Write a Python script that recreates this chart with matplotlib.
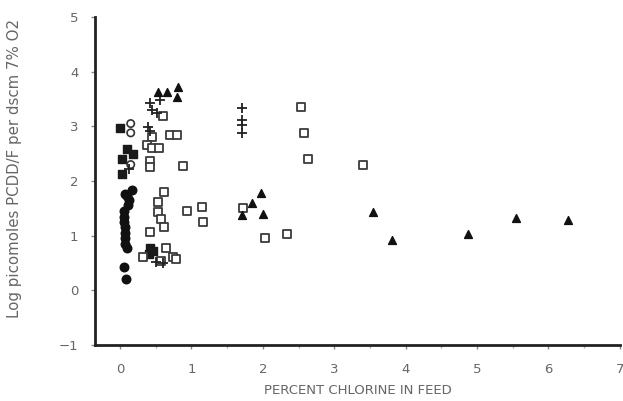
import numpy as np
import matplotlib
matplotlib.use('Agg')
import matplotlib.pyplot as plt
from matplotlib.ticker import MultipleLocator

# percent chlorine vs log picomoles
fsq_x=[0.00,0.10,0.18,0.03,0.03,0.42,0.46,0.40]
fsq_y=[2.97,2.58,2.50,2.40,2.12,0.78,0.72,0.66]

fci_x=[0.17,0.10,0.07,0.12,0.11,0.05,0.05,0.05,0.07,0.07,0.07,0.07,0.10,0.06,0.08]
fci_y=[1.83,1.72,1.76,1.65,1.56,1.45,1.35,1.25,1.15,1.05,0.95,0.85,0.78,0.43,0.21]

oci_x=[0.15,0.15,0.15]
oci_y=[3.05,2.88,2.30]

osq_x=[0.60,0.45,0.70,0.80,0.38,0.45,0.55,0.42,0.42,0.88,0.62,0.53,0.53,0.57,0.62,0.42,
       0.94,1.15,1.16,0.64,0.74,0.58,0.32,0.78,2.54,2.58,2.63,3.40,1.72,2.03,2.34]
osq_y=[3.18,2.81,2.85,2.85,2.65,2.61,2.61,2.36,2.25,2.27,1.79,1.61,1.43,1.30,1.15,1.06,
       1.45,1.52,1.25,0.77,0.61,0.54,0.61,0.57,3.36,2.87,2.40,2.30,1.50,0.96,1.03]

plus_x=[0.56,0.42,0.45,0.52,0.39,0.42,0.12,0.51,0.60,1.71,1.71,1.71,1.71]
plus_y=[3.49,3.43,3.30,3.25,2.98,2.91,2.22,0.52,0.50,3.33,3.12,3.03,2.88]

tri_x=[0.53,0.66,0.81,0.80,1.97,1.85,2.00,1.71,3.54,3.81,4.87,5.55,6.27]
tri_y=[3.62,3.63,3.72,3.54,1.78,1.59,1.39,1.38,1.43,0.92,1.03,1.32,1.28]

xticks=[0,1,2,3,4,5,6,7]
yticks=[-1,0,1,2,3,4,5]

fig=plt.figure(figsize=(6.23,4.01),dpi=100)
ax=fig.add_axes([0.1525,0.1397,0.8425,0.818])

ax.scatter(fsq_x,fsq_y,marker='s',s=34,c='#1a1a1a',edgecolors='#1a1a1a')
ax.scatter(fci_x,fci_y,marker='o',s=38,c='#111111',edgecolors='#111111')
ax.scatter(oci_x,oci_y,marker='o',s=28,facecolors='none',edgecolors='#333333',linewidths=1.2)
ax.scatter(osq_x,osq_y,marker='s',s=30,facecolors='white',edgecolors='#3a3a3a',linewidths=1.3)
ax.scatter(plus_x,plus_y,marker='+',s=42,c='#222222',linewidths=1.3)
ax.scatter(tri_x,tri_y,marker='^',s=32,c='#111111',edgecolors='#111111')

ax.set_xlim(-0.35,7.0)
ax.set_ylim(-1,5)
ax.set_xticks(xticks)
ax.set_yticks(yticks)
ax.set_yticklabels(['\u22121' if t<0 else str(t) for t in yticks])
ax.xaxis.set_minor_locator(MultipleLocator(0.5))

for s in ['top','right']:
    ax.spines[s].set_visible(False)
for s in ['left','bottom']:
    ax.spines[s].set_linewidth(2)
    ax.spines[s].set_color('#222222')

ax.tick_params(axis='both',which='major',direction='out',length=3,width=1,colors='#888888',
               labelsize=9.5,labelcolor='#666666')
ax.tick_params(axis='x',which='minor',direction='out',length=2,width=1,colors='#aaaaaa')
ax.tick_params(axis='x',pad=10)
ax.tick_params(axis='y',pad=9)

ax.set_xlabel('PERCENT CHLORINE IN FEED',fontsize=9.5,color='#666666',labelpad=6)
ax.set_ylabel('Log picomoles PCDD/F per dscm 7% O2',fontsize=10.8,color='#666666')
ax.yaxis.set_label_coords(-0.139,0.537)

plt.savefig('out.png',dpi=100)
plt.close()
